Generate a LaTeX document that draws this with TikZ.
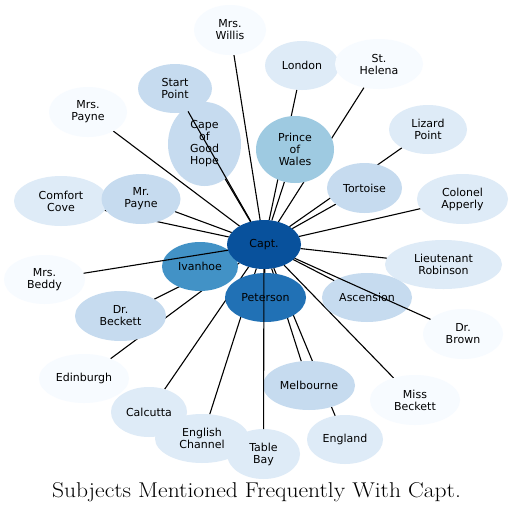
\documentclass[tikz,border=0pt]{standalone}
\usepackage{fontspec}
\newfontfamily\nodefont{DejaVu Sans}
\usetikzlibrary{shapes.geometric}
\pgfdeclarelayer{bg}
\pgfdeclarelayer{below}
\pgfdeclarelayer{above}
\pgfsetlayers{bg,below,main,above}
\definecolor{cA}{RGB}{8,81,156}
\definecolor{cB}{RGB}{33,113,181}
\definecolor{cC}{RGB}{66,146,198}
\definecolor{cD}{RGB}{158,202,225}
\definecolor{cE}{RGB}{198,219,239}
\definecolor{cF}{RGB}{222,235,247}
\definecolor{cG}{RGB}{247,251,255}
\tikzset{
  ent/.style n args={3}{ellipse, draw=none, fill=#1, minimum width=#2pt, minimum height=#3pt,
    inner sep=0pt, outer sep=0pt, align=center, font=\nodefont\fontsize{11}{12}\selectfont, text=black},
  link/.style={draw=black, line width=1.1pt}
}
\begin{document}
\begin{tikzpicture}[x=1pt,y=-1pt]
\begin{pgfonlayer}{bg}
\useasboundingbox[fill=white] (0,0) rectangle (512,515);
\end{pgfonlayer}
% nodes (drawing order matters for overlaps)
\node[ent={cG}{72}{50}] (willis) at (230,30) {Mrs.\\Willis};
\node[ent={cE}{74}{49}] (start) at (175,88.5) {Start\\Point};
\node[ent={cG}{78}{50}] (mpayne) at (88,112) {Mrs.\\Payne};
\node[ent={cE}{73}{84}] (cape) at (204.5,144) {Cape\\of\\Good\\Hope};
\node[ent={cF}{94}{50}] (comfort) at (61,201) {Comfort\\Cove};
\node[ent={cE}{79}{50}] (payne) at (141,199) {Mr.\\Payne};
\node[ent={cF}{74}{49}] (london) at (302,65.5) {London};
\node[ent={cG}{88}{50}] (helena) at (379,64) {St.\\Helena};
\node[ent={cD}{78}{67}] (wales) at (295,149.5) {Prince\\of\\Wales};
\node[ent={cF}{78}{49}] (lizard) at (428,129.5) {Lizard\\Point};
\node[ent={cE}{75}{50}] (tortoise) at (364.5,188) {Tortoise};
\node[ent={cF}{91}{50}] (apperly) at (462.5,199) {Colonel\\Apperly};
\node[ent={cC}{76}{49}] (ivanhoe) at (200,266.5) {Ivanhoe};
\node[ent={cA}{74}{49}] (capt) at (264,244.5) {Capt.};
\node[ent={cB}{81}{49}] (peterson) at (265.5,297.5) {Peterson};
\node[ent={cF}{117}{49}] (robinson) at (443.5,264.5) {Lieutenant\\Robinson};
\node[ent={cE}{90}{49}] (ascension) at (367,297.5) {Ascension};
\node[ent={cG}{80}{50}] (brown) at (463,334) {Dr.\\Brown};
\node[ent={cE}{92}{49}] (melbourne) at (309,385.5) {Melbourne};
\node[ent={cG}{90}{50}] (missbeckett) at (415,400) {Miss\\Beckett};
\node[ent={cF}{76}{49}] (england) at (345,439.5) {England};
\node[ent={cG}{81}{49}] (beddy) at (44.5,279.5) {Mrs.\\Beddy};
\node[ent={cE}{91}{50}] (drbeckett) at (120.5,316) {Dr.\\Beckett};
\node[ent={cG}{90}{49}] (edinburgh) at (84,378.5) {Edinburgh};
\node[ent={cF}{76}{50}] (calcutta) at (149,412) {Calcutta};
\node[ent={cF}{94}{49}] (channel) at (202,438.5) {English\\Channel};
\node[ent={cF}{73}{50}] (table) at (263.5,454) {Table\\Bay};
\node[font=\fontsize{21.4}{25}\selectfont, inner sep=0pt, xscale=1.1] (title) at (256.5,492.5) {Subjects Mentioned Frequently With Capt.};
% edges hidden under nodes
\begin{pgfonlayer}{below}
\foreach \t in {willis,mpayne,cape,comfort,payne,london,helena,wales,lizard,tortoise,apperly,ivanhoe,peterson,robinson,ascension,melbourne,missbeckett,england,drbeckett,edinburgh,calcutta,channel}
  \draw[link] (capt) -- (\t);
\end{pgfonlayer}
% edges drawn over nodes
\begin{pgfonlayer}{above}
\foreach \t in {start,beddy,brown,table}
  \draw[link] (capt) -- (\t);
\end{pgfonlayer}
\end{tikzpicture}
\end{document}
